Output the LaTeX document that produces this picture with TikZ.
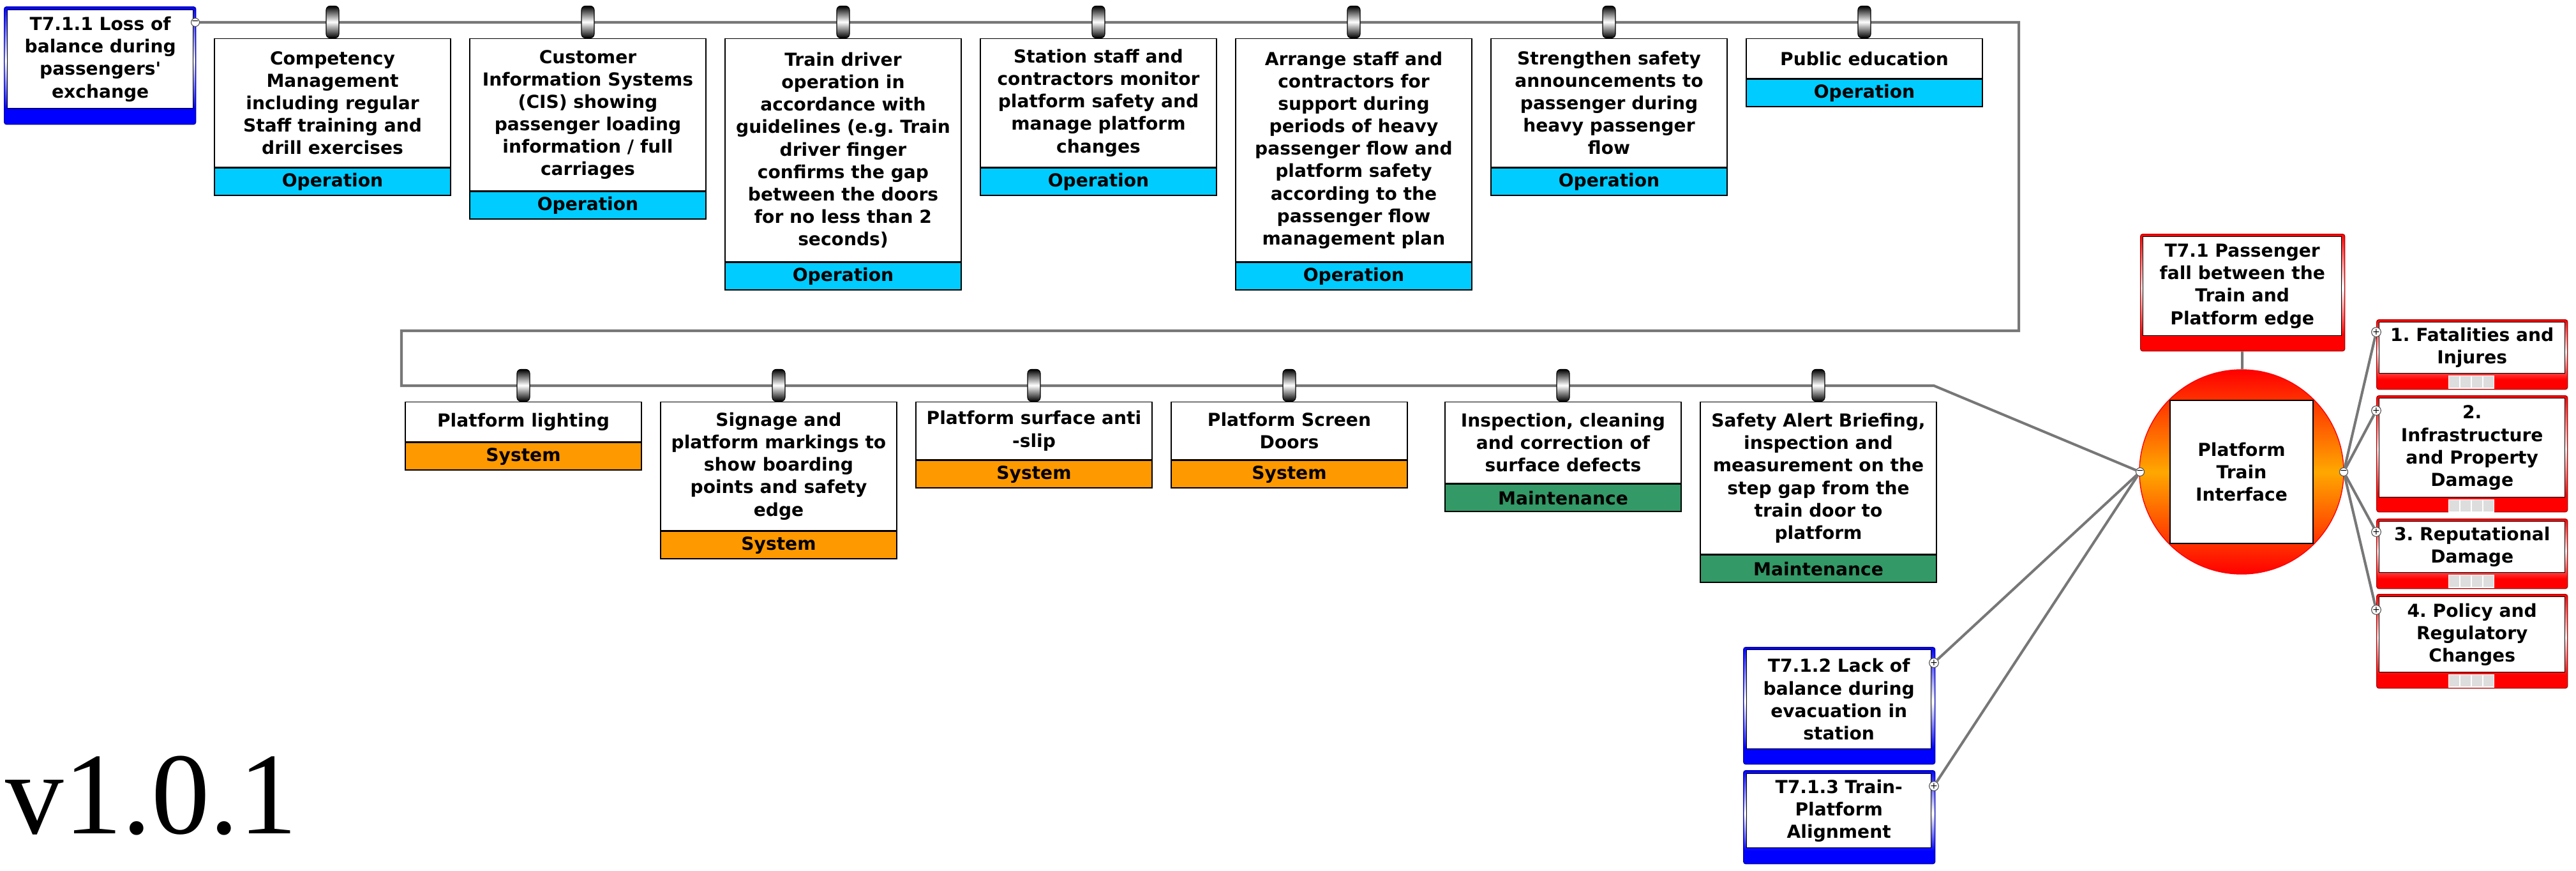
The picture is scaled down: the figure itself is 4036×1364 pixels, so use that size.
\documentclass[tikz,border=0pt]{standalone}
\usepackage{fontspec}
\setmainfont{DejaVu Sans}
\newfontfamily\versionfont{Liberation Serif}
\usetikzlibrary{positioning}

\definecolor{opblue}{HTML}{00CCFF}
\definecolor{sysorange}{HTML}{FF9900}
\definecolor{mntgreen}{HTML}{339966}
\definecolor{wiregray}{HTML}{777777}
\definecolor{cellgray}{HTML}{DDDDDD}
\definecolor{ptiorange}{HTML}{FFA800}

\pgfdeclareverticalshading{framblue}{100bp}{color(0bp)=(blue); color(32bp)=(blue); color(52bp)=(white); color(75bp)=(blue); color(100bp)=(blue)}
\pgfdeclareverticalshading{framred}{100bp}{color(0bp)=(red); color(32bp)=(red); color(52bp)=(white); color(75bp)=(red); color(100bp)=(red)}

\newcommand{\sevcells}{\textcolor{cellgray}{\rule{1.6mm}{1.8mm}}\hspace{0.17mm}%
\textcolor{cellgray}{\rule{1.6mm}{1.8mm}}\hspace{0.17mm}%
\textcolor{cellgray}{\rule{1.6mm}{1.8mm}}\hspace{0.17mm}%
\textcolor{cellgray}{\rule{1.6mm}{1.8mm}}}

\frenchspacing

\begin{document}
\begin{tikzpicture}[x=0.1mm, y=-0.1mm]
			\tikzset{txt/.style={font=\fontsize{8}{10}\selectfont\bfseries, align=center},
				barrier/.style={txt, rectangle, draw=black, line width=0.4pt, fill=white, minimum width=37mm, inner sep=0pt, anchor=north},
				band/.style={barrier, minimum height=4.3mm},
				operation/.style={band, fill=opblue},
				system/.style={band, fill=sysorange},
				maintenance/.style={band, fill=mntgreen},
				hanger/.style={rectangle, rounded corners=0.6mm, top color=black, bottom color=black, middle color=white, draw=black, line width=0.3pt, minimum width=2mm, minimum height=5mm, inner sep=0pt, anchor=south},
				wire/.style={draw=wiregray, line width=1.15pt},
				port/.style={circle, draw=black!70, fill=white, minimum size=1.3mm, inner sep=0pt, line width=0.3pt, font=\fontsize{4}{4}\selectfont},
				threat/.style={rectangle, rounded corners=1pt, shading=framblue, draw=blue!70!black, line width=0.4pt, anchor=north west, minimum width=30mm, inner sep=0pt},
				event/.style={threat, shading=framred, draw=red!70!black},
				inside/.style={txt, rectangle, draw=black, line width=0.4pt, fill=white, anchor=north west, inner sep=0pt},
				meter/.style={rectangle, fill=white, inner sep=0.15mm, anchor=north}};

			\useasboundingbox (0,0) rectangle (4036,1364);

			\node[threat, minimum height=18.4mm] (t711) at (   6,   10) {};
			\node[inside, minimum width=29.1mm, minimum height=15.4mm] (t711t) at (  11,   15) {T7.1.1 Loss of\\balance during\\passengers\textquotesingle\\exchange};
			\node[threat, minimum height=18.3mm] (t712) at (2731, 1013) {};
			\node[inside, minimum width=28.9mm, minimum height=15.5mm] (t712t) at (2736, 1017) {T7.1.2 Lack of\\balance during\\evacuation in\\station};
			\node[threat, minimum height=14.6mm] (t713) at (2731, 1206) {};
			\node[inside, minimum width=28.9mm, minimum height=11.6mm] (t713t) at (2736, 1211) {T7.1.3 Train-\\Platform\\Alignment};

			\node[event, minimum width=32mm, minimum height=18.3mm] (te) at (3353,  366) {};
			\node[inside, minimum width=31.1mm, minimum height=15.5mm] (tet) at (3357,  370) {T7.1 Passenger\\fall between the\\Train and\\Platform edge};

			\node[circle, minimum size=32mm, inner sep=0pt, top color=red, bottom color=red, middle color=ptiorange, draw=red] (pti) at (3512,  739) {};
			\node[inside, anchor=center, minimum size=22.4mm] (ptit) at (pti) {Platform\\Train\\Interface};

			\node[event, minimum width=29.9mm, minimum height=10.9mm] (c1) at (3723,  500) {};
			\node[inside, minimum width=29.1mm, minimum height=8mm] (c1t) at (3727,  504) {1. Fatalities and\\Injures};
			\node[meter] (c1m) at (3872,  587) {\sevcells};
			\node[event, minimum width=29.9mm, minimum height=18.2mm] (c2) at (3723,  619) {};
			\node[inside, minimum width=29.1mm, minimum height=15.5mm] (c2t) at (3727,  623) {2.\\Infrastructure\\and Property\\Damage};
			\node[meter] (c2m) at (3872,  781) {\sevcells};
			\node[event, minimum width=29.9mm, minimum height=10.9mm] (c3) at (3723,  812) {};
			\node[inside, minimum width=29.1mm, minimum height=8mm] (c3t) at (3727,  816) {3. Reputational\\Damage};
			\node[meter] (c3m) at (3872,  899) {\sevcells};
			\node[event, minimum width=29.9mm, minimum height=14.7mm] (c4) at (3723,  930) {};
			\node[inside, minimum width=29.1mm, minimum height=11.8mm] (c4t) at (3727,  934) {4. Policy and\\Regulatory\\Changes};
			\node[meter] (c4m) at (3872, 1055) {\sevcells};

			\node[barrier, minimum height=20.1mm] (b1) at ( 521,   60) {Competency\\Management\\including regular\\Staff training and\\drill exercises};
			\node[operation, below=0pt of b1] (b1l) {Operation};
			\node[barrier, minimum height=23.8mm] (b2) at ( 921,   60) {Customer\\Information Systems\\(CIS) showing\\passenger loading\\information / full\\carriages};
			\node[operation, below=0pt of b2] (b2l) {Operation};
			\node[barrier, minimum height=34.9mm] (b3) at (1321,   60) {Train driver\\operation in\\accordance with\\guidelines (e.g. Train\\driver finger\\confirms the gap\\between the doors\\for no less than 2\\seconds)};
			\node[operation, below=0pt of b3] (b3l) {Operation};
			\node[barrier, minimum height=20.1mm] (b4) at (1721,   60) {Station staff and\\contractors monitor\\platform safety and\\manage platform\\changes};
			\node[operation, below=0pt of b4] (b4l) {Operation};
			\node[barrier, minimum height=34.9mm] (b5) at (2121,   60) {Arrange staff and\\contractors for\\support during\\periods of heavy\\passenger flow and\\platform safety\\according to the\\passenger flow\\management plan};
			\node[operation, below=0pt of b5] (b5l) {Operation};
			\node[barrier, minimum height=20.1mm] (b6) at (2521,   60) {Strengthen safety\\announcements to\\passenger during\\heavy passenger\\flow};
			\node[operation, below=0pt of b6] (b6l) {Operation};
			\node[barrier, minimum height=6.2mm] (b7) at (2921,   60) {Public education};
			\node[operation, below=0pt of b7] (b7l) {Operation};

			\node[barrier, minimum height=6.2mm] (b8) at ( 820,  629) {Platform lighting};
			\node[system, below=0pt of b8] (b8l) {System};
			\node[barrier, minimum height=20.1mm] (b9) at (1220,  629) {Signage and\\platform markings to\\show boarding\\points and safety\\edge};
			\node[system, below=0pt of b9] (b9l) {System};
			\node[barrier, minimum height=9mm] (b10) at (1620,  629) {Platform surface anti\\-slip};
			\node[system, below=0pt of b10] (b10l) {System};
			\node[barrier, minimum height=9mm] (b11) at (2020,  629) {Platform Screen\\Doors};
			\node[system, below=0pt of b11] (b11l) {System};
			\node[barrier, minimum height=12.7mm] (b12) at (2449,  629) {Inspection, cleaning\\and correction of\\surface defects};
			\node[maintenance, below=0pt of b12] (b12l) {Maintenance};
			\node[barrier, minimum height=23.8mm] (b13) at (2849,  629) {Safety Alert Briefing,\\inspection and\\measurement on the\\step gap from the\\train door to\\platform};
			\node[maintenance, below=0pt of b13] (b13l) {Maintenance};

			\node[anchor=base west, inner sep=0pt, font=\versionfont\fontsize{52}{52}\selectfont] (version) at (8, 1305) {v1.0.1};

			\node[port] (p711) at ( 306,   35) {−};
			\node[port] (p712) at (3030, 1038) {+};
			\node[port] (p713) at (3030, 1231) {+};
			\node[port] (pl)   at (3353,  739) {−};
			\node[port] (pr)   at (3672,  739) {−};
			\node[port] (pc1)  at (3723,  520) {+};
			\node[port] (pc2)  at (3723,  643) {+};
			\node[port] (pc3)  at (3723,  833) {+};
			\node[port] (pc4)  at (3723,  955) {+};

			\coordinate (k1) at (3163,  35);
			\coordinate (k2) at (3163, 518);
			\coordinate (k3) at ( 629, 518);
			\coordinate (k4) at ( 629, 604);
			\coordinate (k5) at (3030, 604);

			\draw[wire] (p711) -- (k1) -- (k2) -- (k3) -- (k4) -- (k5) -- (pl);
			\draw[wire] (p712) -- (pl);
			\draw[wire] (p713) -- (pl);
			\draw[wire] (te) -- (pti);
			\draw[wire] (pr) -- (pc1);
			\draw[wire] (pr) -- (pc2);
			\draw[wire] (pr) -- (pc3);
			\draw[wire] (pr) -- (pc4);

			\node[hanger] (h1) at (b1.north) {};
			\node[hanger] (h2) at (b2.north) {};
			\node[hanger] (h3) at (b3.north) {};
			\node[hanger] (h4) at (b4.north) {};
			\node[hanger] (h5) at (b5.north) {};
			\node[hanger] (h6) at (b6.north) {};
			\node[hanger] (h7) at (b7.north) {};
			\node[hanger] (h8) at (b8.north) {};
			\node[hanger] (h9) at (b9.north) {};
			\node[hanger] (h10) at (b10.north) {};
			\node[hanger] (h11) at (b11.north) {};
			\node[hanger] (h12) at (b12.north) {};
			\node[hanger] (h13) at (b13.north) {};

		\end{tikzpicture}
\end{document}
